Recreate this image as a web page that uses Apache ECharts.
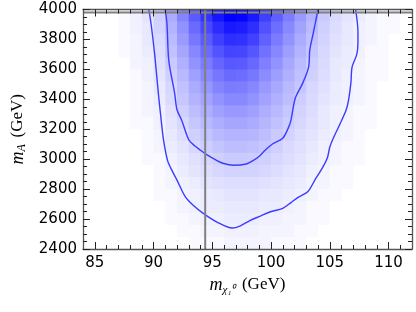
<!DOCTYPE html>
<html>
<head>
<meta charset="utf-8">
<script src="https://cdn.jsdelivr.net/npm/echarts@6/dist/echarts.min.js"></script>
<style>html,body{margin:0;padding:0;background:#fff}#c{width:416px;height:312px}</style>
</head>
<body>
<div id="c"></div>
<script>
// ---- data ----
const xTickLabels = [85, 90, 95, 100, 105, 110];
const yTickLabels = [2400, 2600, 2800, 3000, 3200, 3400, 3600, 3800, 4000];
const xMinorTicks = [85,86,87,88,89,90,91,92,93,94,95,96,97,98,99,100,101,102,103,104,105,106,107,108,109,110,111];
const xBins = [84.5,85.5,86.5,87.5,88.5,89.5,90.5,91.5,92.5,93.5,94.5,95.5,96.5,97.5,98.5,99.5,100.5,101.5,102.5,103.5,104.5,105.5,106.5,107.5,108.5,109.5,110.5,111.5];
const yBins = [3960,3880,3800,3720,3640,3560,3480,3400,3320,3240,3160,3080,3000,2920,2840,2760,2680,2600,2520,2440];
const density = [
[0,0,0,1,3,6,12,25,40,58,75,90,100,98,88,70,56,43,32,22,14,9,6,4,2,1,1,0],
[0,0,0,1,3,5,11,22,35,51,66,79,88,86,78,62,50,38,28,19,12,8,5,3,2,1,1,0],
[0,0,0,1,2,5,9,19,31,45,58,70,78,76,69,55,44,34,25,17,11,7,5,3,2,1,0,0],
[0,0,0,1,2,4,8,17,27,39,51,61,68,67,60,48,39,30,22,15,10,6,4,3,1,1,0,0],
[0,0,0,0,2,3,7,14,23,34,44,53,59,58,52,42,34,26,19,13,9,5,4,2,1,1,0,0],
[0,0,0,0,1,3,6,12,20,29,38,46,51,50,45,37,30,23,17,12,8,5,3,2,1,1,0,0],
[0,0,0,0,1,2,5,10,17,25,33,40,44,43,39,32,26,20,15,10,7,4,3,2,1,0,0,0],
[0,0,0,0,1,2,4,9,15,22,28,34,38,38,34,28,23,18,13,9,6,4,3,2,1,0,0,0],
[0,0,0,0,1,2,3,7,12,18,24,29,32,32,29,24,20,15,11,8,5,3,2,1,1,0,0,0],
[0,0,0,0,1,1,3,6,10,15,20,24,27,27,25,21,17,13,10,7,5,3,2,1,1,0,0,0],
[0,0,0,0,0,1,2,5,8,12,16,20,22,22,21,18,14,11,8,6,4,3,2,1,0,0,0,0],
[0,0,0,0,0,1,2,4,6,10,13,16,18,18,17,15,12,9,7,5,3,2,1,1,0,0,0,0],
[0,0,0,0,0,1,1,3,5,7,10,12,14,14,13,12,10,8,6,4,3,2,1,1,0,0,0,0],
[0,0,0,0,0,0,1,2,4,6,8,10,11,11,11,10,8,6,5,3,2,1,1,0,0,0,0,0],
[0,0,0,0,0,0,1,2,3,4,6,7,8,8,8,7,6,5,4,2,2,1,1,0,0,0,0,0],
[0,0,0,0,0,0,1,1,2,3,4,5,6,6,6,5,5,4,3,2,1,1,0,0,0,0,0,0],
[0,0,0,0,0,0,0,1,2,3,4,4,5,5,5,4,4,3,2,1,1,0,0,0,0,0,0,0],
[0,0,0,0,0,0,0,1,1,2,3,3,4,4,4,3,3,2,2,1,1,0,0,0,0,0,0,0],
[0,0,0,0,0,0,0,0,1,1,2,2,3,3,3,2,2,2,1,1,0,0,0,0,0,0,0,0],
[0,0,0,0,0,0,0,0,0,1,1,1,2,2,2,2,1,1,1,0,0,0,0,0,0,0,0,0]
];
const outerContour = [[89.6,4000],[89.8,3900],[90.1,3700],[90.4,3450],[90.6,3300],[90.85,3130],[91.2,2990],[91.6,2920],[92.0,2860],[92.7,2750],[93.4,2690],[94.2,2640],[95.4,2580],[96.7,2540],[97.4,2555],[98.2,2590],[99.1,2620],[99.9,2647],[101.0,2672],[101.7,2710],[102.3,2745],[103.0,2775],[103.3,2800],[103.8,2870],[104.4,2945],[104.8,3010],[105.0,3080],[105.3,3140],[105.9,3240],[106.4,3330],[106.6,3395],[106.8,3510],[106.9,3615],[107.3,3700],[107.4,3780],[107.4,3850],[107.2,4000]];
const innerContour = [[91.0,4000],[91.15,3900],[91.3,3660],[91.8,3440],[92.0,3330],[92.4,3260],[93.0,3130],[93.5,3090],[94.0,3060],[94.6,3027],[95.3,2995],[95.9,2973],[96.8,2960],[97.9,2968],[98.5,2992],[99.0,3020],[99.5,3060],[100.1,3100],[101.0,3140],[101.5,3214],[101.7,3261],[101.9,3350],[102.1,3415],[102.7,3508],[103.2,3615],[103.3,3729],[103.6,3843],[104.0,4000]];
const vLineX = 94.4;
const hLineY = 3980;
const xRange = [84, 112];
const yRange = [2400, 4000];

// ---- build ----
const cells = [];
density.forEach((row, i) => row.forEach((v, j) => cells.push([xBins[j], yBins[i], v])));
const halfW = 0.5, halfH = 40;

const chart = echarts.init(document.getElementById('c'), null, {renderer: 'canvas'});
const tickColor = '#222';
const spine = {show: true, lineStyle: {color: '#555', width: 1.3}};
const labelFont = {fontFamily: 'DejaVu Sans', fontSize: 15, color: '#000'};

function majorX(pos, showLabel) {
  return {
    type: 'value', position: pos, min: xRange[0], max: xRange[1], z: 10,
    axisLine: spine,
    axisTick: {show: true, inside: true, length: 7, lineStyle: {color: tickColor, width: 1}, customValues: xTickLabels},
    axisLabel: showLabel ? Object.assign({show: true, margin: 7, customValues: xTickLabels, formatter: v => String(v)}, labelFont) : {show: false},
    splitLine: {show: false}
  };
}
function minorX(pos) {
  return {
    type: 'value', position: pos, min: xRange[0], max: xRange[1], z: 10,
    axisLine: {show: false},
    axisTick: {show: true, inside: true, length: 4, lineStyle: {color: tickColor, width: 1}, customValues: xMinorTicks},
    axisLabel: {show: false}, splitLine: {show: false}
  };
}
function yAx(pos, showLabel) {
  return {
    type: 'value', position: pos, min: yRange[0], max: yRange[1], interval: 200, z: 10,
    axisLine: spine,
    axisTick: {show: true, inside: true, length: 7, lineStyle: {color: tickColor, width: 1}},
    minorTick: {show: true, splitNumber: 4, length: 4, lineStyle: {color: tickColor, width: 1}},
    axisLabel: showLabel ? Object.assign({show: true, margin: 6, customValues: yTickLabels, formatter: v => String(v)}, labelFont) : {show: false},
    splitLine: {show: false}, minorSplitLine: {show: false}
  };
}

const xa0 = majorX('bottom', true);
xa0.name = '{m|m}{s|χ₁⁰}  {u|(GeV)}';
xa0.nameLocation = 'middle';
xa0.nameGap = 22;
xa0.nameTextStyle = {rich: {
  m: {fontFamily: 'Liberation Serif', fontStyle: 'italic', fontSize: 18, color: '#000'},
  s: {fontFamily: 'Liberation Serif', fontStyle: 'italic', fontSize: 11, color: '#000', padding: [10, 0, 0, 0]},
  u: {fontFamily: 'Liberation Serif', fontSize: 17, color: '#000'}
}};
const ya0 = yAx('left', true);
ya0.name = '{m|m}{s|A}  {u|(GeV)}';
ya0.nameLocation = 'middle';
ya0.nameGap = 42;
ya0.nameTextStyle = {rich: {
  m: {fontFamily: 'Liberation Serif', fontStyle: 'italic', fontSize: 18, color: '#000'},
  s: {fontFamily: 'Liberation Serif', fontStyle: 'italic', fontSize: 12, color: '#000', padding: [8, 0, 0, 0]},
  u: {fontFamily: 'Liberation Serif', fontSize: 17, color: '#000'}
}};

const option = {
  animation: false,
  backgroundColor: '#fff',
  grid: {left: 83, right: 4, top: 9.5, bottom: 63, containLabel: false, outerBoundsMode: 'none'},
  xAxis: [xa0, minorX('bottom'), majorX('top', false), minorX('top')],
  yAxis: [ya0, yAx('right', false)],
  series: [
    {
      type: 'custom', xAxisIndex: 0, yAxisIndex: 0, clip: true, z: 1,
      data: cells,
      encode: {x: 0, y: 1},
      renderItem: function (params, api) {
        const x = api.value(0), y = api.value(1), v = api.value(2) / 100;
        const p0 = api.coord([x - halfW, y + halfH]);
        const p1 = api.coord([x + halfW, y - halfH]);
        const t = Math.pow(v, 0.8);
        const c = Math.round(255 * (1 - t));
        return {type: 'rect', shape: {x: p0[0], y: p0[1], width: p1[0] - p0[0] + 0.6, height: p1[1] - p0[1] + 0.6},
          style: {fill: 'rgb(' + c + ',' + c + ',255)'}};
      }
    },
    {type: 'line', data: outerContour, smooth: 0.3, symbol: 'none', clip: true, z: 3,
      lineStyle: {color: '#3c3cff', width: 1.4}},
    {type: 'line', data: innerContour, smooth: 0.3, symbol: 'none', clip: true, z: 3,
      lineStyle: {color: '#3c3cff', width: 1.4}},
    {type: 'line', data: [[vLineX, yRange[0]], [vLineX, yRange[1]]], symbol: 'none', z: 4,
      lineStyle: {color: '#808080', width: 2}},
    {type: 'line', data: [[xRange[0], hLineY], [xRange[1], hLineY]], symbol: 'none', z: 4,
      lineStyle: {color: '#808080', width: 2}}
  ]
};
chart.setOption(option);
</script>
</body>
</html>
